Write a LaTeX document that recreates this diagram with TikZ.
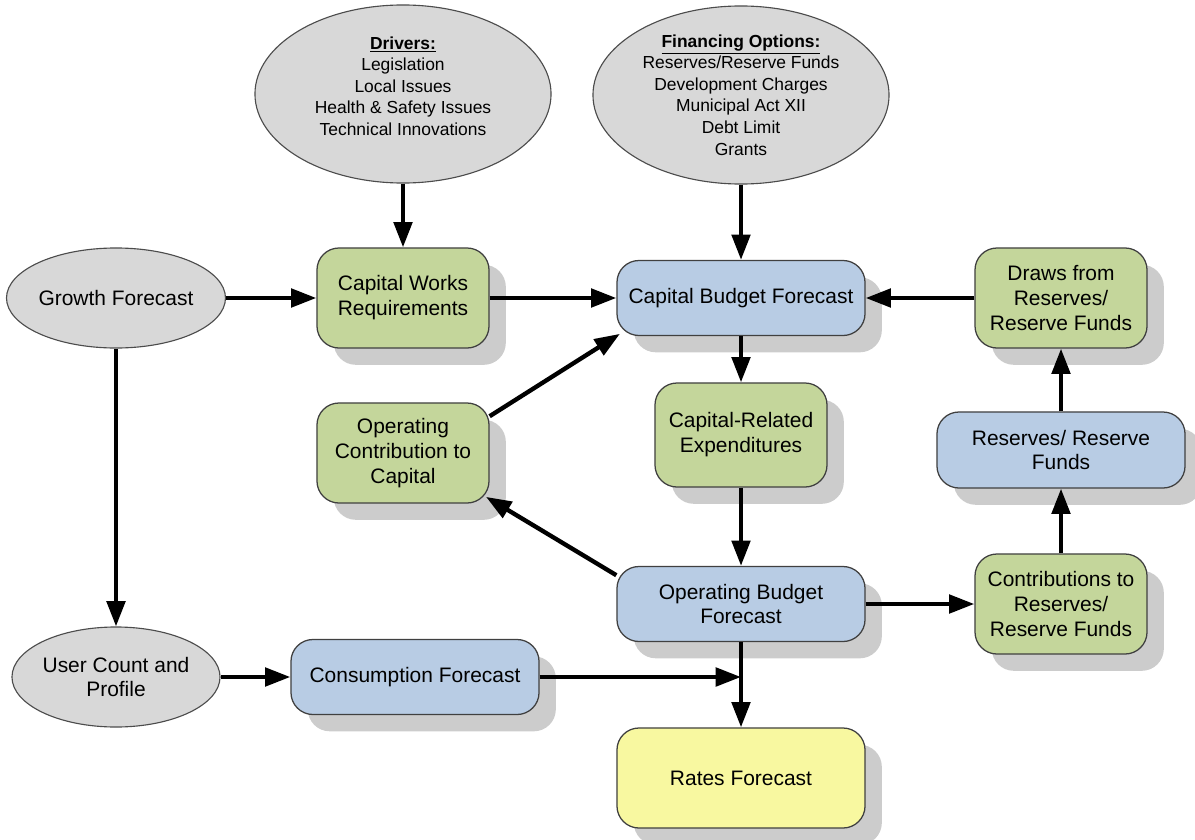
\documentclass[tikz,border=0pt]{standalone}
\usepackage{fontspec}
\setmainfont{Liberation Sans}
\usetikzlibrary{arrows.meta,shapes.geometric,shadows}

\definecolor{boxgreen}{RGB}{196,214,155}
\definecolor{boxblue}{RGB}{184,204,228}
\definecolor{boxyellow}{RGB}{248,248,160}
\definecolor{ovalgrey}{RGB}{216,216,216}

\begin{document}
\begin{tikzpicture}[x=0.025cm, y=-0.025cm,
    box/.style ={rectangle, rounded corners=0.55cm, draw=black!75, line width=0.9pt, align=center, inner sep=2pt,
      font=\fontsize{14.9}{17.7}\selectfont,
      drop shadow={shadow xshift=0.42cm, shadow yshift=-0.42cm, fill=black!20, opacity=1}},
    greenbox/.style ={box, fill=boxgreen, minimum width=4.3cm, minimum height=2.5cm},
    bluebox/.style ={box, fill=boxblue, minimum width=6.2cm, minimum height=1.875cm},
    ratebox/.style ={box, fill=boxyellow, minimum width=6.2cm, minimum height=2.5cm},
    oval/.style ={ellipse, draw=black!70, line width=0.8pt, fill=ovalgrey, align=center, inner sep=0pt,
      minimum width=5.2cm, minimum height=2.5cm, font=\fontsize{14.9}{17.7}\selectfont},
    note/.style ={oval, minimum width=7.4cm, minimum height=4.45cm, font=\fontsize{12.4}{15.3}\selectfont},
    flow/.style ={line width=3.1pt, -{Triangle[length=18pt,width=13pt]}}]
   \useasboundingbox (0,0) rectangle (1195,840);
   % top ovals
   \node[note] (drivers) at (403,94) {};
   \node[align=center, font=\fontsize{12.4}{15.3}\selectfont] (drivtext) at (403,86)
     {\underline{\textbf{Drivers:}}\\Legislation\\Local Issues\\Health \& Safety Issues\\Technical Innovations};
   \node[note] (finance) at (741,95)
     {\underline{\textbf{Financing Options:}}\\Reserves/Reserve Funds\\Development Charges\\Municipal Act XII\\Debt Limit\\Grants};
   % left column
   \node[oval] (growth) at (116,298) {Growth Forecast};
   \node[oval] (user) at (116,677) {User Count and\\Profile};
   \node[greenbox] (cwr) at (403,298) {Capital Works\\Requirements};
   \node[greenbox] (opcon) at (403,453) {Operating\\Contribution to\\Capital};
   \node[bluebox] (cons) at (415,677) {Consumption Forecast};
   % middle column
   \node[bluebox] (cbf) at (741,298) {Capital Budget Forecast};
   \node[greenbox, minimum height=2.6cm] (cre) at (741,435) {Capital-Related\\Expenditures};
   \node[bluebox] (obf) at (741,604) {Operating Budget\\Forecast};
   \node[ratebox] (rates) at (741,778) {Rates Forecast};
   % right column
   \node[greenbox] (draws) at (1061,298) {Draws from\\Reserves/\\Reserve Funds};
   \node[bluebox, minimum height=1.9cm] (resf) at (1061,450) {Reserves/ Reserve\\Funds};
   \node[greenbox] (contrib) at (1061,604) {Contributions to\\Reserves/\\Reserve Funds};
   \coordinate (join) at (741,677);
   % connectors
   \draw[flow] (drivers) -- (cwr);
   \draw[flow] (finance) -- (cbf);
   \draw[flow] (growth) -- (cwr);
   \draw[flow] (cwr) -- (cbf);
   \draw[flow] (draws) -- (cbf);
   \draw[flow] (cbf) -- (cre);
   \draw[flow, shorten >=-3pt] (opcon.23) -- (cbf.197);
   \draw[flow] (cre) -- (obf);
   \draw[flow, shorten >=-3pt] (obf.167) -- (opcon.-28);
   \draw[flow] (obf) -- (contrib);
   \draw[flow] (contrib) -- (resf);
   \draw[flow] (resf) -- (draws);
   \draw[flow] (growth) -- (user);
   \draw[flow] (user) -- (cons);
   \draw[flow] (cons) -- (join);
   \draw[flow] (obf) -- (rates);
\end{tikzpicture}
\end{document}
